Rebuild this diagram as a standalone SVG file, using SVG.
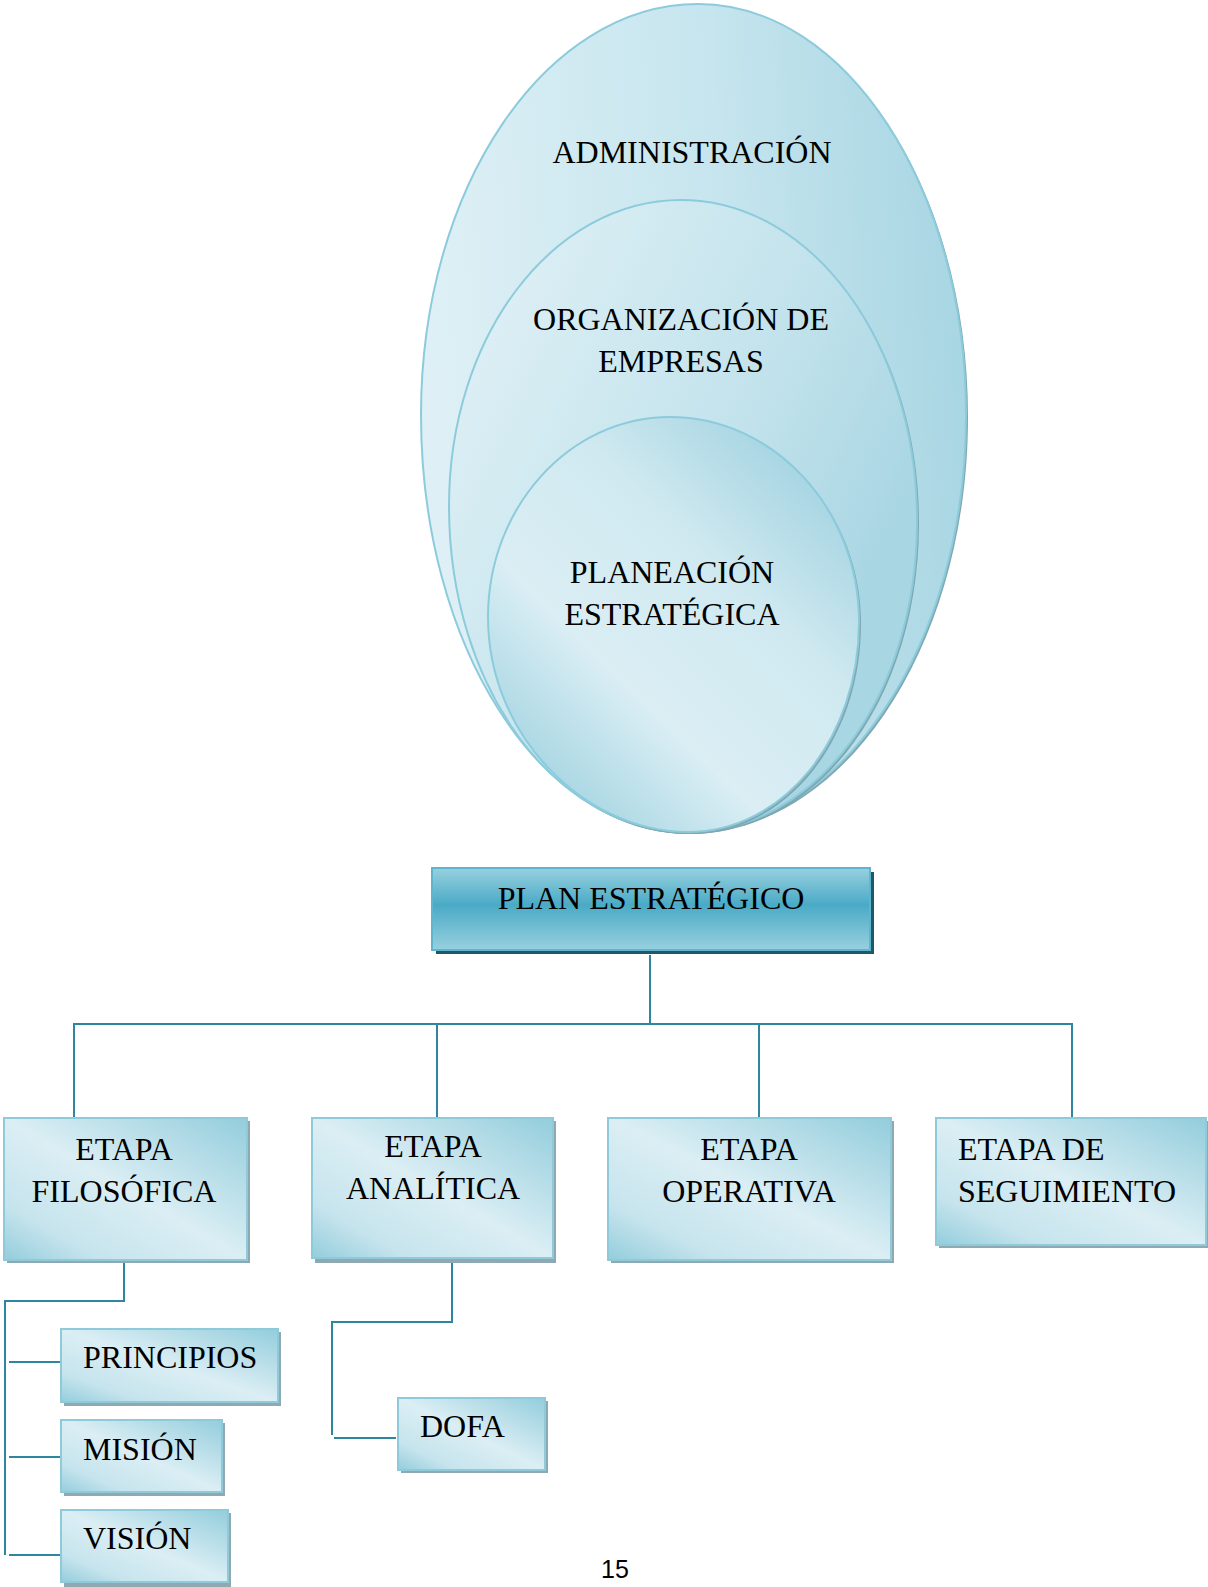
<svg xmlns="http://www.w3.org/2000/svg" width="1208" height="1587" viewBox="0 0 1208 1587">
<defs>
<linearGradient id="gBox" x1="1" y1="0" x2="0" y2="1">
<stop offset="0" stop-color="#93cddc"/>
<stop offset="0.5" stop-color="#dbeef4"/>
<stop offset="0.8" stop-color="#c6e4ed"/>
<stop offset="1" stop-color="#93cddc"/>
</linearGradient>
<linearGradient id="gPlan" x1="0" y1="0" x2="0" y2="1">
<stop offset="0" stop-color="#98d0df"/>
<stop offset="0.45" stop-color="#4aaac6"/>
<stop offset="1" stop-color="#98d0df"/>
</linearGradient>
<linearGradient id="gEll" x1="0" y1="0.3" x2="1" y2="0.2">
<stop offset="0" stop-color="#def0f5"/>
<stop offset="0.55" stop-color="#c6e5ee"/>
<stop offset="1" stop-color="#a6d5e2"/>
</linearGradient>
<linearGradient id="gEllIn" x1="0.1" y1="0.9" x2="0.8" y2="0.1">
<stop offset="0" stop-color="#9fd2e0"/>
<stop offset="0.35" stop-color="#daeef4"/>
<stop offset="0.7" stop-color="#d0e9f0"/>
<stop offset="1" stop-color="#a8d6e3"/>
</linearGradient>
<linearGradient id="gEllMid" x1="0.1" y1="0.1" x2="0.9" y2="0.6">
<stop offset="0" stop-color="#ddeff5"/>
<stop offset="0.6" stop-color="#c3e3ec"/>
<stop offset="1" stop-color="#a9d6e3"/>
</linearGradient>
</defs>
<style>
.t{font-family:"Liberation Serif","Times New Roman",serif;font-size:32px;fill:#000}
.c{text-anchor:middle}
.box{fill:url(#gBox);stroke:#8fcadb;stroke-width:2}
.sh{fill:#8ea9b1}
.ell{stroke:#8ccbdc;stroke-width:2}
.esh{fill:#7fa7b1}
.ln{fill:none;stroke:#31869f;stroke-width:2}
</style>
<rect width="1208" height="1587" fill="#fff"/>

<g id="administracion">
<path class="esh" d="M700,6 C848,6 968,190 968,417 C968,647 843,834 688,834 C542,834 423,647 423,417 C423,190 547,6 700,6 Z"/>
<path class="ell" fill="url(#gEll)" d="M698,4 C846,4 966,188 966,415 C966,645 841,832 686,832 C540,832 421,645 421,415 C421,188 545,4 698,4 Z"/>
<text class="t c" x="692" y="163">ADMINISTRACIÓN</text>
</g>

<g id="organizacion">
<path class="esh" d="M683,202 C814,202 919,345 919,523 C919,700 817,834 690,834 C558,834 451,690 451,508 C451,338 555,202 683,202 Z"/>
<path class="ell" fill="url(#gEllMid)" d="M681,200 C812,200 917,343 917,521 C917,698 815,832 688,832 C556,832 449,688 449,506 C449,336 553,200 681,200 Z"/>
<text class="t c" x="681" y="330">ORGANIZACIÓN DE</text>
<text class="t c" x="681" y="372">EMPRESAS</text>
</g>

<g id="planeacion">
<path class="esh" d="M672,419 C776,419 861,511 861,624 C861,741 785,834 690,834 C589,834 490,740 490,619 C490,510 571,419 672,419 Z"/>
<path class="ell" fill="url(#gEllIn)" d="M670,417 C774,417 859,509 859,622 C859,739 783,832 688,832 C587,832 488,738 488,617 C488,508 569,417 670,417 Z"/>
<text class="t c" x="672" y="583">PLANEACIÓN</text>
<text class="t c" x="672" y="625">ESTRATÉGICA</text>
</g>

<g id="plan-estrategico">
<rect x="436" y="872" width="438" height="82" fill="#1f5869"/>
<rect x="432" y="868" width="438" height="82" fill="url(#gPlan)" stroke="#5db6ce" stroke-width="2"/>
<text class="t c" x="651" y="909">PLAN ESTRATÉGICO</text>
</g>

<g id="connectors">
<path class="ln" d="M650,955 V1024 M74,1118 V1024 H1072 V1118 M437,1024 V1118 M759,1024 V1118"/>
<path class="ln" d="M124,1260 V1301 H5 V1555"/>
<path class="ln" d="M9,1362 H61 M9,1457 H61 M9,1555 H61"/>
<path class="ln" d="M452,1260 V1322 H332 V1435"/>
<path class="ln" d="M334,1438 H396"/>
</g>

<g id="etapa-filosofica">
<rect class="sh" x="7" y="1121" width="243" height="142"/>
<rect class="box" x="4" y="1118" width="243" height="142"/>
<text class="t c" x="124" y="1160">ETAPA</text>
<text class="t c" x="124" y="1202">FILOSÓFICA</text>
</g>

<g id="etapa-analitica">
<rect class="sh" x="315" y="1121" width="241" height="142"/>
<rect class="box" x="312" y="1118" width="241" height="140"/>
<text class="t c" x="433" y="1157">ETAPA</text>
<text class="t c" x="433" y="1199">ANALÍTICA</text>
</g>

<g id="etapa-operativa">
<rect class="sh" x="611" y="1121" width="283" height="142"/>
<rect class="box" x="608" y="1118" width="283" height="142"/>
<text class="t c" x="749" y="1160">ETAPA</text>
<text class="t c" x="749" y="1202">OPERATIVA</text>
</g>

<g id="etapa-seguimiento">
<rect class="sh" x="939" y="1121" width="269" height="127"/>
<rect class="box" x="936" y="1118" width="270" height="127"/>
<text class="t" x="958" y="1160">ETAPA DE</text>
<text class="t" x="958" y="1202">SEGUIMIENTO</text>
</g>

<g id="principios">
<rect class="sh" x="64" y="1332" width="217" height="74"/>
<rect class="box" x="61" y="1329" width="217" height="73"/>
<text class="t" x="83" y="1368">PRINCIPIOS</text>
</g>

<g id="mision">
<rect class="sh" x="64" y="1423" width="161" height="73"/>
<rect class="box" x="61" y="1420" width="161" height="72"/>
<text class="t" x="83" y="1460">MISIÓN</text>
</g>

<g id="vision">
<rect class="sh" x="64" y="1513" width="167" height="74"/>
<rect class="box" x="61" y="1510" width="167" height="72"/>
<text class="t" x="83" y="1549">VISIÓN</text>
</g>

<g id="dofa">
<rect class="sh" x="401" y="1401" width="147" height="72"/>
<rect class="box" x="398" y="1398" width="147" height="72"/>
<text class="t" x="420" y="1437">DOFA</text>
</g>

<text x="615" y="1578" font-family="'Liberation Sans',Arial,sans-serif" font-size="25" text-anchor="middle" fill="#000">15</text>
</svg>
